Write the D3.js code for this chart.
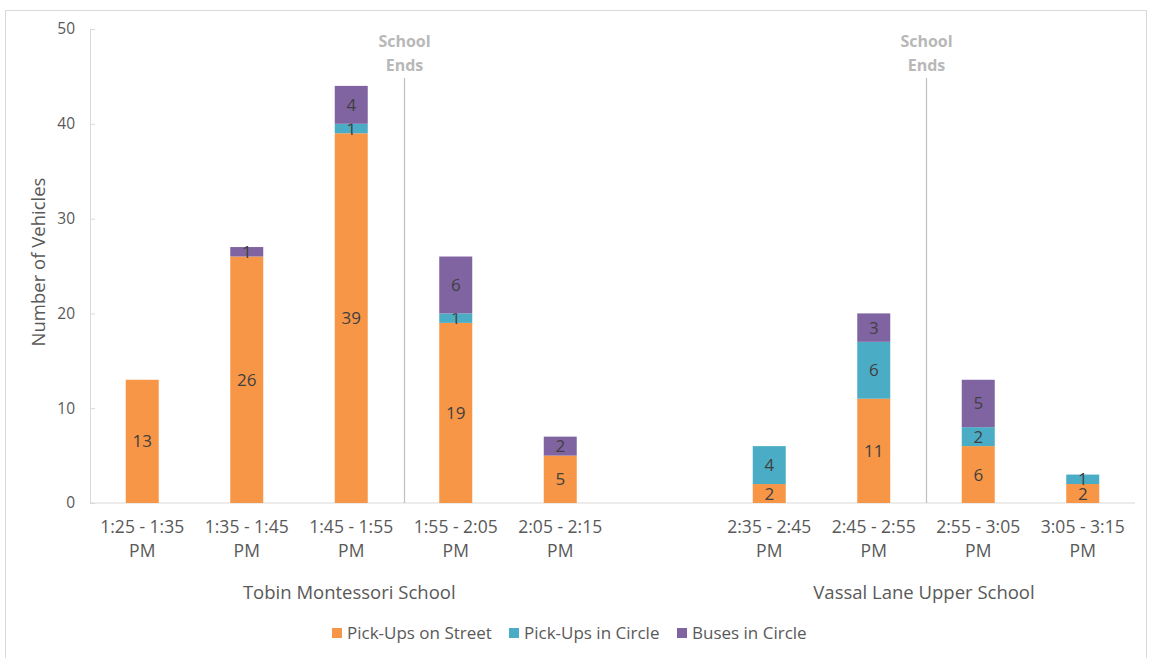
<!DOCTYPE html>
<html>
<head>
<meta charset="utf-8">
<script src="https://cdn.jsdelivr.net/npm/d3@7"></script>
<style>
  body { margin: 0; background: #fff; font-family: "Open Sans", sans-serif; }
  svg text { fill: #595959; font-family: "Open Sans", sans-serif; }
</style>
</head>
<body>
<div id="chart"></div>
<script>
// Data
const tobinSlots = ["1:25 - 1:35 PM", "1:35 - 1:45 PM", "1:45 - 1:55 PM", "1:55 - 2:05 PM", "2:05 - 2:15 PM"];
const vassalSlots = ["2:35 - 2:45 PM", "2:45 - 2:55 PM", "2:55 - 3:05 PM", "3:05 - 3:15 PM"];
const schools = ["Tobin Montessori School", "Vassal Lane Upper School"];
const seriesNames = ["Pick-Ups on Street", "Pick-Ups in Circle", "Buses in Circle"];
const colors = ["#F79646", "#4BACC6", "#8064A2"];
const streetPickups = [13, 26, 39, 19, 5, 2, 11, 6, 2];
const circlePickups = [0, 0, 1, 1, 0, 4, 6, 2, 1];
const circleBuses = [0, 1, 4, 6, 2, 0, 3, 5, 0];
const yTicks = [0, 10, 20, 30, 40, 50];
// "School Ends" falls just before these slots
const schoolEnds = ["1:55 - 2:05 PM", "2:55 - 3:05 PM"];

const W = 1149, H = 658;
const margin = { top: 29, right: 14, bottom: 155, left: 90 };
const width = W - margin.left - margin.right;
const height = H - margin.top - margin.bottom;

const svg = d3.select("#chart").append("svg").attr("width", W).attr("height", H);

// outer chart border
svg.append("rect")
  .attr("x", 5.5).attr("y", 10.5)
  .attr("width", 1141).attr("height", 660)
  .attr("fill", "none").attr("stroke", "#d9d9d9");

const g = svg.append("g").attr("transform", `translate(${margin.left},${margin.top})`);

const allSlots = tobinSlots.concat(["gap"], vassalSlots);
const x = d3.scaleBand().domain(allSlots).range([0, width]).paddingInner(0).paddingOuter(0);
const y = d3.scaleLinear().domain([0, 50]).range([height, 0]);

const rows = tobinSlots.concat(vassalSlots).map((slot, i) => ({
  slot,
  street: streetPickups[i],
  circle: circlePickups[i],
  bus: circleBuses[i]
}));
const stack = d3.stack().keys(["street", "circle", "bus"])(rows);

// y axis
const yAxis = g.append("g").call(d3.axisLeft(y).tickValues(yTicks).tickSize(-5).tickPadding(15));
yAxis.select(".domain").attr("stroke", "#d9d9d9");
yAxis.selectAll(".tick line").attr("stroke", "#d9d9d9");
yAxis.selectAll(".tick text")
  .style("font-size", "15.5px")
  .style("font-family", "'Open Sans', sans-serif")
  .attr("fill", "#595959");

g.append("text")
  .attr("transform", "rotate(-90)")
  .attr("x", -y(25) + 4)
  .attr("y", -45)
  .attr("text-anchor", "middle")
  .style("font-size", "18.5px")
  .text("Number of Vehicles");

// x baseline
g.append("line")
  .attr("x1", 0).attr("x2", width)
  .attr("y1", y(0)).attr("y2", y(0))
  .attr("stroke", "#d9d9d9");

// school ends markers
schoolEnds.forEach((s) => {
  const sx = Math.round(x(s)) + 0.5;
  g.append("line")
    .attr("x1", sx).attr("x2", sx)
    .attr("y1", 49).attr("y2", y(0))
    .attr("stroke", "#bfbfbf").attr("stroke-width", 1.2);
  ["School", "Ends"].forEach((t, k) => {
    g.append("text")
      .attr("x", sx).attr("y", 18 + k * 24)
      .attr("text-anchor", "middle")
      .style("font-size", "16px").style("font-weight", "bold")
      .style("fill", "#b8b8b8")
      .text(t);
  });
});

// bars
const barW = 33;
const layers = g.selectAll(".layer").data(stack).enter().append("g")
  .attr("fill", (d, i) => colors[i]);

layers.selectAll("rect").data((d) => d).enter().append("rect")
  .attr("x", (d) => x(d.data.slot) + x.bandwidth() / 2 - barW / 2)
  .attr("width", barW)
  .attr("y", (d) => y(d[1]))
  .attr("height", (d) => y(d[0]) - y(d[1]));

// data labels
layers.selectAll("text").data((d) => d.filter((s) => s[1] - s[0] > 0)).enter().append("text")
  .attr("x", (d) => x(d.data.slot) + x.bandwidth() / 2)
  .attr("y", (d) => (y(d[0]) + y(d[1])) / 2 + 6)
  .attr("text-anchor", "middle")
  .style("font-size", "17px")
  .style("fill", "#404040")
  .text((d) => d[1] - d[0]);

// x tick labels (two lines)
allSlots.filter((s) => s !== "gap").forEach((s) => {
  const parts = [s.replace(" PM", ""), "PM"];
  parts.forEach((p, k) => {
    g.append("text")
      .attr("x", x(s) + x.bandwidth() / 2)
      .attr("y", y(0) + 30 + k * 24)
      .attr("text-anchor", "middle")
      .style("font-size", "17.5px")
      .text(p);
  });
});

// group labels
const groupCenter = (slots) => (x(slots[0]) + x(slots[slots.length - 1]) + x.bandwidth()) / 2;
[tobinSlots, vassalSlots].forEach((slots, i) => {
  g.append("text")
    .attr("x", groupCenter(slots) - 2)
    .attr("y", y(0) + 96)
    .attr("text-anchor", "middle")
    .style("font-size", "18.5px")
    .text(schools[i]);
});

// legend
const legendX = [332, 509, 677];
const legend = svg.append("g").attr("transform", "translate(0,633)");
seriesNames.forEach((name, i) => {
  legend.append("rect")
    .attr("x", legendX[i]).attr("y", -5)
    .attr("width", 10).attr("height", 10)
    .attr("fill", colors[i]);
  legend.append("text")
    .attr("x", legendX[i] + 15).attr("y", 6)
    .style("font-size", "17px")
    .text(name);
});
</script>
</body>
</html>
